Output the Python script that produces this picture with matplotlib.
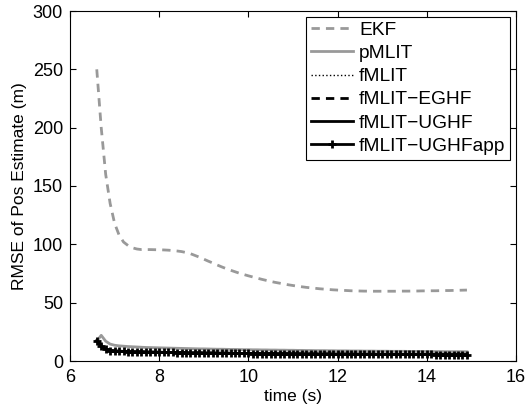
import numpy as np
import matplotlib
matplotlib.use("Agg")
import matplotlib.pyplot as plt

plt.rcParams['font.family'] = ['Liberation Sans', 'DejaVu Sans']

t = np.round(np.arange(6.6, 14.95, 0.1), 1)

ekf = [250, 200, 160, 135, 118, 108, 102, 99, 97, 96,
       95.5, 95.5, 95.5, 95.4, 95.3, 95.2, 95.0, 94.7, 94.3, 93.8,
       93.0, 92.0, 90.5, 89.0, 87.3, 85.6, 84.0, 82.3, 80.7, 79.2,
       77.8, 76.5, 75.2, 74.1, 73.0, 72.0, 71.0, 70.0, 69.1, 68.2,
       67.4, 66.7, 66.0, 65.3, 64.7, 64.1, 63.6, 63.1, 62.7, 62.3,
       61.9, 61.6, 61.3, 61.0, 60.8, 60.6, 60.4, 60.2, 60.1, 60.0,
       59.9, 59.9, 59.8, 59.8, 59.8, 59.8, 59.8, 59.8, 59.9, 59.9,
       59.9, 60.0, 60.0, 60.1, 60.1, 60.2, 60.2, 60.3, 60.4, 60.4,
       60.5, 60.6, 60.7, 60.8]

pmlit = [17.0, 22.0, 17.0, 14.5, 13.5, 13.0, 12.7, 12.4, 12.2, 12.0,
         11.8, 11.6, 11.5, 11.4, 11.3, 11.2, 11.1, 11.0, 10.9, 10.8,
         10.7, 10.6, 10.5, 10.4, 10.4, 10.3, 10.2, 10.1, 10.1, 10.0,
         9.9, 9.9, 9.8, 9.7, 9.7, 9.6, 9.6, 9.5, 9.5, 9.4,
         9.4, 9.3, 9.3, 9.2, 9.2, 9.1, 9.1, 9.0, 9.0, 8.9,
         8.9, 8.9, 8.8, 8.8, 8.7, 8.7, 8.7, 8.6, 8.6, 8.6,
         8.5, 8.5, 8.5, 8.4, 8.4, 8.4, 8.3, 8.3, 8.3, 8.3,
         8.2, 8.2, 8.2, 8.2, 8.1, 8.1, 8.1, 8.1, 8.0, 8.0,
         8.0, 8.0, 8.0, 7.9]

fmlit = [17.5, 13.0, 10.0, 9.0, 8.6, 8.4, 8.2, 8.1, 8.0, 7.9,
         7.8, 7.7, 7.6, 7.5, 7.5, 7.4, 7.3, 7.3, 7.2, 7.2,
         7.1, 7.0, 7.0, 6.9, 6.9, 6.8, 6.8, 6.7, 6.7, 6.7,
         6.6, 6.6, 6.5, 6.5, 6.5, 6.4, 6.4, 6.4, 6.3, 6.3,
         6.3, 6.2, 6.2, 6.2, 6.2, 6.1, 6.1, 6.1, 6.1, 6.0,
         6.0, 6.0, 6.0, 5.9, 5.9, 5.9, 5.9, 5.9, 5.8, 5.8,
         5.8, 5.8, 5.8, 5.7, 5.7, 5.7, 5.7, 5.7, 5.7, 5.6,
         5.6, 5.6, 5.6, 5.6, 5.6, 5.6, 5.5, 5.5, 5.5, 5.5,
         5.5, 5.5, 5.5, 5.5]
egh = fmlit
ughf = fmlit
ughfapp = fmlit

labels = ['EKF', 'pMLIT', 'fMLIT', 'fMLIT\u2212EGHF', 'fMLIT\u2212UGHF', 'fMLIT\u2212UGHFapp']
xticks = [6, 8, 10, 12, 14, 16]
yticks = [0, 50, 100, 150, 200, 250, 300]

fig = plt.figure(figsize=(5.28, 4.13), dpi=100)
ax = fig.add_axes([70/528, 1 - 361/413, 446/528, 350/413])

gray = '#999999'
ax.plot(t, ekf, color=gray, lw=2, ls=(0, (3, 2.2)), label=labels[0])
ax.plot(t, pmlit, color=gray, lw=2, ls='-', label=labels[1])
ax.plot(t, fmlit, color='black', lw=1, ls=':', label=labels[2])
ax.plot(t, egh, color='black', lw=2, ls=(0, (3, 2.2)), label=labels[3])
ax.plot(t, ughf, color='black', lw=2, ls='-', label=labels[4])
ax.plot(t, ughfapp, color='black', lw=2, ls='-', marker='+', ms=6, mew=2, label=labels[5])

ax.set_xlim(6, 16)
ax.set_ylim(0, 300)
ax.set_xticks(xticks)
ax.set_yticks(yticks)
ax.tick_params(direction='in', top=True, right=True, labelsize=13, length=4.5, width=0.8)
ax.tick_params(axis='x', pad=6)
ax.tick_params(axis='y', pad=5)
for s in ax.spines.values():
    s.set_linewidth(0.8)
ax.set_xlabel('time (s)', fontsize=12.5, labelpad=2)
ax.set_ylabel('RMSE of Pos Estimate (m)', fontsize=12.5, labelpad=4)

leg = ax.legend(loc='upper right', fontsize=13.8, frameon=True, fancybox=False,
                edgecolor='black', framealpha=1, borderaxespad=0.3,
                handlelength=2.2, handletextpad=0.3, labelspacing=0.3,
                borderpad=0.25)
leg.get_frame().set_linewidth(0.8)

fig.savefig('out.png', dpi=100)
